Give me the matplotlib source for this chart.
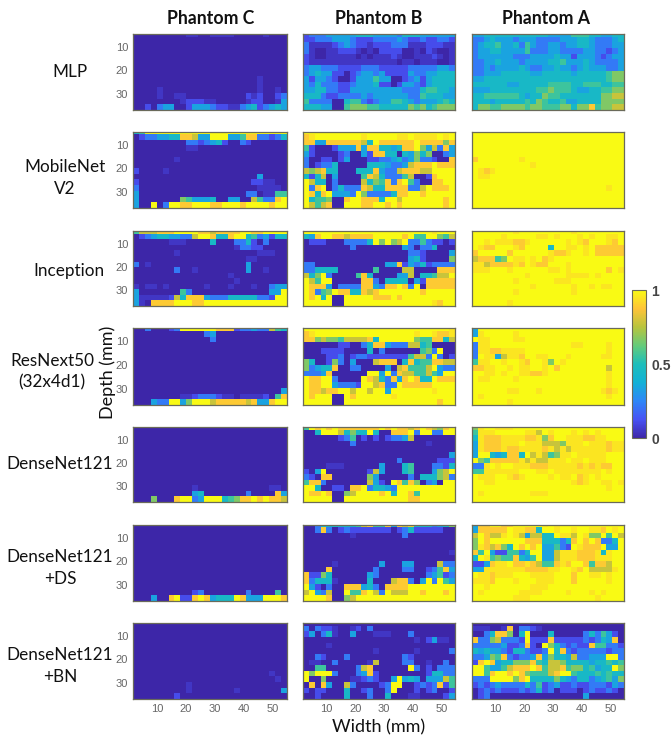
import matplotlib
matplotlib.use('Agg')
import matplotlib.pyplot as plt
import numpy as np
from matplotlib.colors import LinearSegmentedColormap

# heat map cells, one string per depth row
# digits 0-9 are steps of 1/9, x is just under 1 (faint orange tint on yellow)
# f is just over 0 (faint violet tint on the dark background)
Z = '00000 00000 00000 00000 000000'
Y = '99999 99999 99999 99999 999999'

mlp_c = ['00000 0000f f00ff ff000 00f000', Z, Z, Z, Z, Z, Z, Z,
         '00000 00000 00000 00000 0f0000',
         '00000 00000 00000 00000 0f0000',
         '0000f 00000 00000 00000 0f00f0',
         '0000f 00ff0 00000 00001 f10012',
         '00000 000f1 11ff0 0000f 1100f3',
         '00102 33001 33321 1ff23 412343']
mlp_b = ['12223 33334 44333 32444 333333',
         '11222 33321 11222 23211 211221',
         '2ffff 12321 1f111 222ff f111ff',
         '2f00f f111f 0f011 1100f 01f00f',
         '1f00f ffff0 f0fff 1f00f ff1f0f',
         '1ffff fffff fffff f0ff0 fff00f',
         '23322 21111 22211 11122 222332',
         '23433 11012 33231 11132 233444',
         '31332 10013 33533 00123 134444',
         '32422 21123 33411 01332 134444',
         '33442 21133 33333 33222 455443',
         '44421 12222 32333 33322 544433',
         '52222 00455 21233 55432 333454',
         '44433 00566 65544 44465 645666']
mlp_a = ['33444 44444 44433 33555 443344',
         '22343 33233 32222 33344 322234',
         '23445 33425 32233 23344 322233',
         '23344 33335 22233 22223 322123',
         '23333 33222 33334 33133 321233',
         '22334 33323 33344 53334 322223',
         '22323 33343 22334 33234 333223',
         '22333 44444 33444 44344 444566',
         '33444 44444 44444 44444 444566',
         '44444 43344 44455 55445 554455',
         '33344 44444 45565 55433 445566',
         '44555 55543 44655 44444 446677',
         '44434 44445 46544 53344 446666',
         '46655 66665 66555 66466 856677']

mobilenet_c = ['45999 99999 99999 99999 999999',
               '01223 34488 73399 93358 822124',
               '00000 00002 21234 10021 000000',
               '00000 0000f f0000 00000 000000',
               Z,
               '00000 00f00 00000 00000 000000',
               Z,
               '10000 f0000 00000 00000 000000',
               '00000 00000 00000 00000 030000',
               '10000 00000 00000 00000 11ff00',
               '20000 00000 00000 00000 0ffff0',
               '30000 00000 00000 00002 20ff55',
               '30000 00065 33340 03300 752289',
               '30090 29988 99988 99989 999899']
mobilenet_b = [Y,
               '8x999 99999 x9999 9xx9x xxx9x9',
               '88338 88888 74988 88889 888868',
               '51000 13338 38844 34889 637283',
               '31000 01200 31884 40436 460023',
               '20011 01300 01122 34236 221008',
               '20122 40000 04443 22378 889888',
               '76784 40004 44832 27888 779999',
               '41470 30000 58742 22570 018999',
               '97440 20000 74658 28952 008899',
               '92890 24222 87448 88822 798889',
               '98489 33329 62222 48899 899999',
               '94556 00899 88849 97999 999989',
               '97578 00999 88998 98999 999989']
mobilenet_a = [Y, Y, Y, Y, Y,
               '89999 999x9 99999 99999 999999',
               '99999 99999 x9999 99999 999999',
               '9x8x9 99999 99999 99999 999999',
               '9xx99 99999 99999 99999 999999',
               Y,
               '99999 99999 99999 99999 999x99',
               Y, Y, Y]

inception_c = ['57778 88999 98878 88899 889999',
               '01234 43322 79984 48994 523144',
               '00000 0fff0 00040 00224 102000',
               '00000 00000 00000 00f22 110000',
               '00000 00f00 00000 00000 0fff00',
               '00000 00000 00000 0000f f00000',
               '20f00 00000 00000 00003 000000',
               '00000 00200 f0000 00003 00f000',
               '00000 00000 00000 0f000 000000',
               '00000 00000 00000 00f00 000000',
               'f0ff0 f0000 00f00 0f000 f00233',
               '30000 00052 00000 00000 000339',
               '3ffff f1748 88322 24444 422199',
               '3f088 88999 88999 99999 999999']
inception_b = ['99999 99999 99999 99999 99x999',
               '43899 88788 88999 99895 599657',
               '01110 00222 24969 67922 521101',
               '00000 00020 00000 00320 224000',
               '00000 00000 00000 00022 100003',
               '00000 00000 00000 00034 100006',
               '22000 00000 00003 38132 412222',
               '22444 40000 00500 00770 000888',
               '74692 00005 84000 03370 445779',
               '97599 00000 88204 44403 188888',
               '98883 02222 88328 89829 088888',
               '98256 98844 87899 99999 899999',
               '98949 00999 99888 98999 999999',
               '99999 00999 99999 99999 99x899']
inception_a = ['99999 99x99 99999 99x99 999999',
               '99999 x9999 9xx9x 999x9 x99xx9',
               '99x9x xx88x 99999 9x9x8 999x89',
               '9x889 99x89 99949 9xx9x 988888',
               '89999 98999 999x8 8x99x 988888',
               '78885 69xx9 x98x9 99999 999999',
               'xx788 88x89 x8899 9x999 999999',
               'xxx99 9x999 999xx 9x999 99989x',
               '99999 9999x 99999 9xxxx 9x9999',
               '99999 99x99 9999x xx999 999999',
               '99999 99999 x9999 99x99 x9xx99',
               '99999 99x99 99999 99x99 999999',
               Y,
               '99999 9x999 99999 99999 999999']

resnext_c = ['00200 01299 99998 88122 322754',
             '00000 00000 00230 00000 000000',
             '00000 00000 00020 00000 000000',
             Z, Z, Z, Z, Z, Z, Z, Z,
             '00000 00000 00000 00000 000003',
             '00000 000ff 12221 ff0ff ff1058',
             '00032 29936 99978 88887 833899']
resnext_b = ['99999 99999 99999 99999 99999x',
             '8x999 99999 99999 9999x 99x88x',
             '88676 65777 78499 99996 558847',
             '00000 01100 24883 22277 450000',
             '00011 11000 04020 00000 562900',
             '00001 12012 21111 11157 729201',
             '64001 62030 00788 80484 558877',
             '62344 80022 00003 07855 579322',
             '22238 00000 09939 28775 575399',
             '98899 20000 98742 83898 449888',
             '98899 32221 99782 29888 889999',
             '98878 89979 97993 99999 99x999',
             '98999 00989 99999 x9999 999999',
             '99999 00999 99999 99999 999899']
resnext_a = ['39999 99999 99999 99999 999999',
             '3x999 99x99 99999 99999 999999',
             '9xx99 99xx9 99999 99999 999999',
             '2xx99 99999 99999 99xx9 999x99',
             '2xx88 xxxx9 99999 99999 999x99',
             '29xx3 7xx89 9xx99 9x999 99xx99',
             '5xx99 x99x8 99x69 x9999 999999',
             '88xx9 9x9xx 99x98 99999 999799',
             '99xx9 x99xx 88x99 99999 999x99',
             '9xx99 99x99 99999 99999 999x99',
             '99999 99999 99999 99999 999x99',
             '99999 9xx99 9x999 99999 99x8x9',
             '9x999 99999 99999 99999 999x99',
             '99999 9x999 99999 99999 999999']

densenet_c = [Z, Z, Z, Z, Z, Z, Z, Z, Z, Z, Z,
              '00000 00000 f0000 00000 000ff0',
              '00000 00000 34000 00002 000083',
              '00060 00899 23999 45688 989887']
densenet_b = ['59898 98888 88898 98878 987689',
              '00499 97464 49400 88892 992299',
              '00000 01250 10101 22370 000000',
              '00000 00020 00000 00000 0f0000',
              Z,
              '00000 00000 00000 00000 000003',
              '00000 00000 00000 02000 000111',
              '0000f ff000 00030 00450 002214',
              '10390 00000 01730 00450 003679',
              '21088 00000 06300 00020 444672',
              '58820 00000 07310 98586 023099',
              '99400 11088 92443 29999 999999',
              '98898 00679 99989 49985 999999',
              '99999 00999 99999 99988 999999']
densenet_a = ['6x99x xx999 99999 99999 999999',
              '5xxx9 9999x x79x9 99x9x 9x9999',
              '4x888 xxxx8 8x689 9xxx8 8xx999',
              '3x888 xxx9x xx777 6xxx9 xxx8xx',
              '3x888 x88xx xx8x7 x7xxx xxx8xx',
              '39943 48849 7x756 xx9xx xxx999',
              '96588 888x7 x77xx x9xx9 xxx999',
              '22x9x 99xxx 888xx xxx8x 8x8899',
              '55xxx xxx99 9xx9x xxxxx xx9x99',
              '9xxx9 9x8x9 999x9 xx98x 9x9999',
              '99xx9 99999 99999 99x8x 99xx9x',
              '99999 99999 99999 99999 999x99',
              '9x999 99999 xxx99 99999 999999',
              Y]

ds_c = [Z, Z, Z, Z, Z, Z, Z, Z, Z, Z, Z, Z,
        '00000 00000 12000 00002 000050',
        '00030 08911 89834 44983 339998']
ds_b = ['00244 44445 78558 38784 442346',
        '00282 01211 11111 01241 111100',
        '00000 000f0 00000 00200 000000',
        Z, Z,
        '00000 00000 00000 00000 00000f',
        Z,
        '00000 f0000 00030 00330 000722',
        '00008 00000 00200 00220 012583',
        '81164 00000 03200 00000 023512',
        '82444 f0000 04000 78820 392953',
        '93102 00888 34208 88899 999999',
        '79327 00955 89729 77799 899989',
        '99998 00679 99999 99999 999999']
ds_a = ['38899 88999 99x9x 99999 999999',
        '38888 89xx8 8499x 99x99 xx89x9',
        '79877 x9x73 77449 xx79x 669597',
        '69899 99998 88444 24898 982249',
        '6x878 64989 89335 219x8 889339',
        '85931 15524 99337 xxx88 8x4x99',
        '49x56 55843 59337 xxx88 8xxx99',
        '1138x x988x 87558 x8998 588799',
        '33xxx xxxx8 888xx 99x89 7777x9',
        '9xx8x xx999 xxxx9 99899 xx9x99',
        'xxx89 99x99 9xxx9 99899 999x99',
        '99x99 99999 xxx99 99999 999999',
        '9x999 999xx xx999 9x999 x9x999',
        '99999 99xxx 99999 99999 9x9999']

bn_c = [Z, Z, Z, Z, Z, Z, Z, Z, Z,
        '00000 00000 00000 00000 000f00',
        '00000 00000 00000 00000 0000f0',
        '00000 0000f 00000 00000 000000',
        '00000 0000f 00000 00f00 000003',
        '00000 00100 00000 00000 000000']
bn_b = [Z,
        '20211 f00f1 02000 00000 000000',
        '13024 f0030 00fff 00020 000000',
        '00000 00000 00000 0000f 013ff0',
        '0000f 00000 00000 00000 000000',
        '00000 00000 00f00 0000f 000002',
        '00210 00200 00000 00210 000000',
        '0ff00 20000 0f700 00220 0f0020',
        '00550 00002 78000 00092 010222',
        '96999 20002 38100 00000 014422',
        '90060 000ff 12100 39343 033375',
        '08083 00720 00012 99001 212815',
        '10110 00400 12002 90001 012001',
        '00100 00400 02004 000ff 000013']
bn_a = [Z,
        'fff00 f8022 1f000 00000 000000',
        '00248 86049 00040 00002 425310',
        '82267 22219 11181 11112 124380',
        '22222 31128 10964 21211 855221',
        '43433 21442 11294 82122 222122',
        '22365 82122 38364 43722 333992',
        '18983 44666 85477 64444 344545',
        '99533 57888 98577 85664 534496',
        '99589 98986 55578 99544 454544',
        '22299 99689 44446 43244 234536',
        '12123 22224 25123 11211 222132',
        '01212 11121 24120 11101 211210',
        '01200 00000 00000 00003 000000']

panels = [[mlp_c, mlp_b, mlp_a],
          [mobilenet_c, mobilenet_b, mobilenet_a],
          [inception_c, inception_b, inception_a],
          [resnext_c, resnext_b, resnext_a],
          [densenet_c, densenet_b, densenet_a],
          [ds_c, ds_b, ds_a],
          [bn_c, bn_b, bn_a]]

col_titles = ['Phantom C', 'Phantom B', 'Phantom A']
row_labels = ['MLP', 'MobileNet\nV2', 'Inception', 'ResNext50\n(32x4d1)',
              'DenseNet121', 'DenseNet121\n+DS', 'DenseNet121\n+BN']
x_ticks = [10, 20, 30, 40, 50]
y_ticks = [10, 20, 30]
cbar_ticks = [0, 0.5, 1]
cbar_labels = ['0', '0.5', '1']

# pixel boxes of the panels and text anchors in the picture
col_px = [(133, 287), (303, 455), (472, 624)]
row_px = [(34, 110), (132, 208), (231, 306), (328, 405), (427, 502), (525, 601), (623, 699)]
title_x = [211, 379, 546]
row_label_x = [70, 65, 69, 52, 60, 60, 60]
row_label_y = [72, 178, 271, 372, 464, 568, 666]

W, H = 671, 736

parula = LinearSegmentedColormap.from_list('parula', [
    (0.000, (0.2422, 0.1504, 0.6603)),
    (0.125, (0.2810, 0.3228, 0.9579)),
    (0.250, (0.1786, 0.5289, 0.9682)),
    (0.375, (0.0689, 0.6948, 0.8394)),
    (0.500, (0.1157, 0.7464, 0.7301)),
    (0.625, (0.3936, 0.7963, 0.4800)),
    (0.750, (0.7200, 0.7700, 0.2400)),
    (0.875, (0.9970, 0.7659, 0.2199)),
    (1.000, (0.9769, 0.9839, 0.0805))], N=256)

special = {'x': 0.95, 'f': 0.05}


def decode(rows):
    out = []
    for r in rows:
        r = r.replace(' ', '')
        assert len(r) == 26, r
        out.append([special[c] if c in special else int(c) / 9 for c in r])
    assert len(out) == 14
    return np.array(out)


def add_axes_px(left, top, right, bottom):
    return fig.add_axes([left / W, 1 - bottom / H, (right - left) / W, (bottom - top) / H])


fig = plt.figure(figsize=(W / 100, H / 100), dpi=100)
tick_font = 'Liberation Sans'
label_font = 'Lato'
spine_col = '#6a6a5a'

im = None
for i, row in enumerate(panels):
    for j, rows in enumerate(row):
        ax = add_axes_px(col_px[j][0], row_px[i][0], col_px[j][1], row_px[i][1])
        im = ax.imshow(decode(rows), cmap=parula, vmin=0, vmax=1, aspect='auto',
                       interpolation='nearest', extent=(1.7, 54.8, 36.8, 3.3))
        ax.set_xlim(1.7, 54.8)
        ax.set_ylim(36.8, 4.5)
        ax.set_xticks(x_ticks if i == 6 else [])
        ax.set_yticks(y_ticks if j == 0 else [])
        ax.tick_params(length=0, labelsize=8, labelcolor='#666666', pad=3.5)
        for t in ax.get_xticklabels() + ax.get_yticklabels():
            t.set_family(tick_font)
        for s in ax.spines.values():
            s.set_color(spine_col)
            s.set_linewidth(0.9)

for x, name in zip(title_x, col_titles):
    fig.text(x / W, 1 - 18 / H, name, family=label_font, fontweight='bold', fontsize=12.7,
             ha='center', va='center', color='#111111')

for name, x, y in zip(row_labels, row_label_x, row_label_y):
    fig.text(x / W, 1 - y / H, name, family=label_font, fontsize=12.3, ha='center', va='center',
             color='#111111', linespacing=1.42)

fig.text(108 / W, 1 - 372 / H, 'Depth (mm)', family=label_font, fontsize=13, rotation=90,
         ha='center', va='center', color='#111111')
fig.text(379 / W, 1 - 727 / H, 'Width (mm)', family=label_font, fontsize=13, ha='center',
         va='center', color='#111111')

cax = add_axes_px(632, 290, 646, 438)
cb = fig.colorbar(im, cax=cax, ticks=cbar_ticks)
cb.ax.set_yticklabels(cbar_labels, family=tick_font, fontweight='bold', fontsize=10, color='#444444')
cb.ax.tick_params(length=0, pad=4)
cb.outline.set_edgecolor(spine_col)
cb.outline.set_linewidth(0.8)

fig.savefig('out.png', dpi=100)
